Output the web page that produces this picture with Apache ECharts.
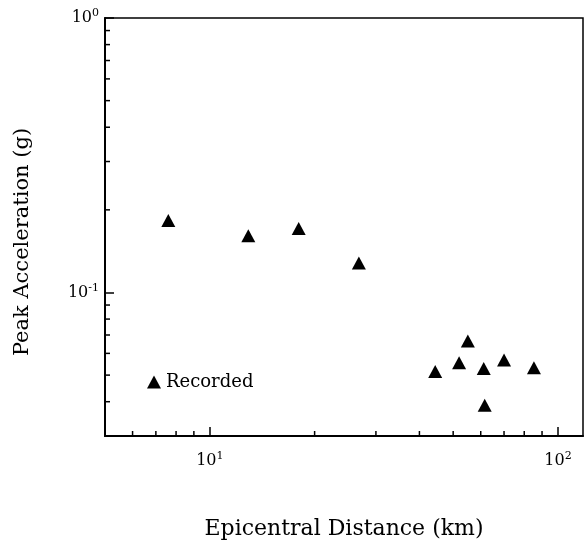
<!DOCTYPE html>
<html><head><meta charset="utf-8">
<script src="https://cdn.jsdelivr.net/npm/echarts@6/dist/echarts.min.js"></script>
<style>html,body{margin:0;padding:0;background:#fff}#c{width:587px;height:545px}</style>
</head><body><div id="c"></div>
<script>
// Data (log-log scatter)
const distanceKm = [7.6, 12.9, 18.0, 26.8, 55.1, 52.0, 44.4, 61.2, 70.0, 85.3, 61.6];
const peakAccelG = [0.183, 0.161, 0.171, 0.128, 0.0665, 0.0555, 0.0515, 0.0528, 0.0568, 0.0532, 0.0388];
const xMinorTicks = [6, 7, 8, 9, 20, 30, 40, 50, 60, 70, 80, 90];
const yMinorTicks = [0.04, 0.05, 0.06, 0.07, 0.08, 0.09, 0.2, 0.3, 0.4, 0.5, 0.6, 0.7, 0.8, 0.9];
const xTickExponents = ['1', '2'];       // labels 10^1, 10^2
const yTickExponents = ['-1', '0'];      // labels 10^-1, 10^0
const xRange = [5, 118];
const yRange = [0.03, 1];

const FONT = 'DejaVu Serif';
const rich = {
  b: {fontFamily: FONT, fontSize: 16, color: '#000'},
  s: {fontFamily: FONT, fontSize: 11, color: '#000', verticalAlign: 'bottom', padding: [0, 0, 9, 0]}
};
function powLabel(v, exps, firstExp) {
  const lg = Math.log10(v);
  const e = Math.round(lg);
  if (Math.abs(lg - e) > 1e-6) return '';
  const s = exps[e - firstExp];
  return s === undefined ? '' : '{b|10}{s|' + s + '}';
}

const pts = distanceKm.map((d, i) => [d, peakAccelG[i]]);

function tickSeries(values, axis) {
  return {
    type: 'custom', silent: true, z: 5,
    data: values.map(v => axis === 'x' ? [v, yRange[0]] : [xRange[0], v]),
    renderItem: function (params, api) {
      const p = api.coord([api.value(0), api.value(1)]);
      const L = 5;
      const shape = axis === 'x'
        ? {x1: p[0], y1: p[1], x2: p[0], y2: p[1] - L}
        : {x1: p[0], y1: p[1], x2: p[0] + L, y2: p[1]};
      return {type: 'line', shape: shape, style: {stroke: '#000', lineWidth: 1.5}};
    }
  };
}

const chart = echarts.init(document.getElementById('c'), null, {renderer: 'canvas'});
chart.setOption({
  animation: false,
  backgroundColor: '#fff',
  grid: {left: 105, right: 4, top: 18, bottom: 104, show: true, borderColor: '#000', borderWidth: 1.5},
  legend: {
    data: [{name: 'Recorded', icon: 'triangle', itemStyle: {color: '#000', opacity: 1}}],
    left: 142, top: 368, itemWidth: 14, itemHeight: 13, itemGap: 4,
    textStyle: {fontFamily: FONT, fontSize: 18, color: '#000'}
  },
  xAxis: {
    type: 'log', logBase: 10, min: xRange[0], max: xRange[1],
    name: 'Epicentral Distance (km)', nameLocation: 'middle', nameGap: 82,
    nameTextStyle: {fontFamily: FONT, fontSize: 22, color: '#000'},
    axisLine: {show: true, lineStyle: {color: '#000', width: 2}},
    axisTick: {show: true, inside: true, length: 9, lineStyle: {color: '#000', width: 1.5}},
    axisLabel: {margin: 15, showMinLabel: false, showMaxLabel: false,
      formatter: v => powLabel(v, xTickExponents, 1), rich: rich},
    splitLine: {show: false}
  },
  yAxis: {
    type: 'log', logBase: 10, min: yRange[0], max: yRange[1],
    name: 'Peak Acceleration (g)', nameLocation: 'middle', nameGap: 72, nameRotate: 90,
    nameTextStyle: {fontFamily: FONT, fontSize: 21, color: '#000', padding: [0, 30, 0, 0]},
    axisLine: {show: true, lineStyle: {color: '#000', width: 2}},
    axisTick: {show: true, inside: true, length: 9, lineStyle: {color: '#000', width: 1.5}},
    axisLabel: {margin: 6, formatter: v => powLabel(v, yTickExponents, -1), rich: rich},
    splitLine: {show: false}
  },
  series: [
    {
      name: 'Recorded', type: 'scatter', symbol: 'triangle', symbolSize: [14, 13],
      itemStyle: {color: '#000', opacity: 1}, data: pts, z: 10
    },
    tickSeries(xMinorTicks, 'x'),
    tickSeries(yMinorTicks, 'y')
  ]
});
</script></body></html>
